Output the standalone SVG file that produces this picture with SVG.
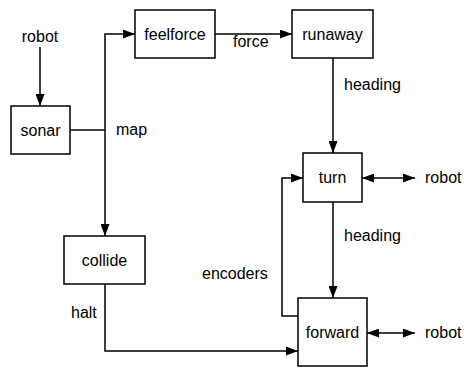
<svg xmlns="http://www.w3.org/2000/svg" width="464" height="369" viewBox="0 0 464 369">
  <style>
    .box { fill: #ffffff; stroke: #000000; stroke-width: 1.5; }
    .wire { fill: none; stroke: #000000; stroke-width: 1.5; }
    text { font-family: "Liberation Sans", Arial, Helvetica, sans-serif; font-size: 16px; fill: #000000; }
    .c { text-anchor: middle; }
  </style>
  <defs>
    <marker id="head" viewBox="0 0 12 9" refX="12" refY="4.5" markerWidth="12" markerHeight="9" markerUnits="userSpaceOnUse" orient="auto-start-reverse">
      <path d="M0,0 L12,4.5 L0,9 Z" fill="#000000"/>
    </marker>
  </defs>
  <rect width="464" height="369" fill="#ffffff"/>

  <g id="connectors">
    <path class="wire" d="M40,47 L40,106" marker-end="url(#head)"/>
    <path class="wire" d="M70,130 L105,130"/>
    <path class="wire" d="M105,130 L105,236" marker-end="url(#head)"/>
    <path class="wire" d="M105,130 L105,34 L135,34" marker-end="url(#head)"/>
    <path class="wire" d="M215,34 L292,34" marker-end="url(#head)"/>
    <path class="wire" d="M333,58 L333,153" marker-end="url(#head)"/>
    <path class="wire" d="M362,178 L415,178" marker-start="url(#head)" marker-end="url(#head)"/>
    <path class="wire" d="M333,202 L333,298" marker-end="url(#head)"/>
    <path class="wire" d="M298,316 L282,316 L282,178 L303,178" marker-end="url(#head)"/>
    <path class="wire" d="M105,284 L105,351 L298,351" marker-end="url(#head)"/>
    <path class="wire" d="M367,333 L415,333" marker-start="url(#head)" marker-end="url(#head)"/>
    <text x="233" y="47">force</text>
    <text x="116" y="135">map</text>
    <text x="344" y="90">heading</text>
    <text x="344" y="241">heading</text>
    <text x="202" y="279">encoders</text>
    <text x="71" y="318">halt</text>
  </g>

  <g id="robot-in">
    <text class="c" x="40" y="42">robot</text>
  </g>
  <g id="sonar">
    <rect class="box" x="11" y="106" width="59" height="48"/>
    <text class="c" x="40.5" y="135.5">sonar</text>
  </g>
  <g id="feelforce">
    <rect class="box" x="135" y="10" width="80" height="48"/>
    <text class="c" x="175" y="39.5">feelforce</text>
  </g>
  <g id="runaway">
    <rect class="box" x="292" y="10" width="81" height="48"/>
    <text class="c" x="332.5" y="39.5">runaway</text>
  </g>
  <g id="turn">
    <rect class="box" x="303" y="153" width="59" height="49"/>
    <text class="c" x="332.5" y="183">turn</text>
  </g>
  <g id="robot-turn">
    <text x="425" y="183">robot</text>
  </g>
  <g id="collide">
    <rect class="box" x="64" y="236" width="81" height="48"/>
    <text class="c" x="104.5" y="265.5">collide</text>
  </g>
  <g id="forward">
    <rect class="box" x="298" y="298" width="69" height="68"/>
    <text class="c" x="332.5" y="338">forward</text>
  </g>
  <g id="robot-forward">
    <text x="425" y="338">robot</text>
  </g>
</svg>
